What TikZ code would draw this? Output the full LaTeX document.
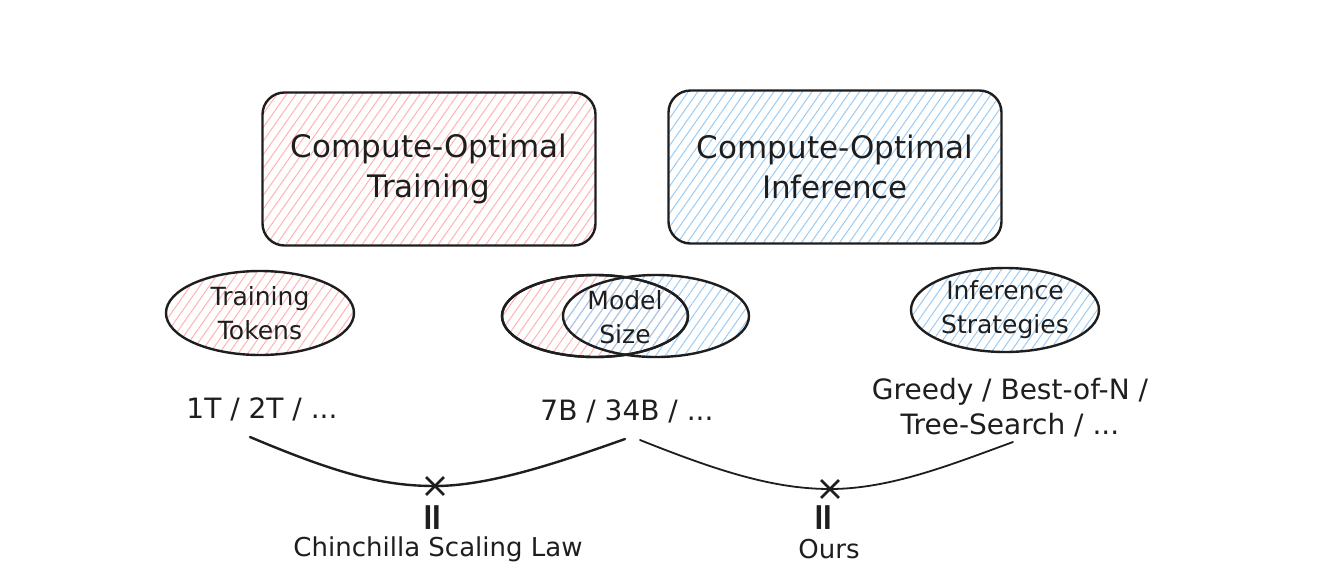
\documentclass[tikz,border=0pt]{standalone}
\usepackage{fontspec}
\setmainfont{DejaVu Sans}
\usetikzlibrary{shapes.geometric,shapes.misc,patterns.meta,positioning}
\definecolor{ink}{HTML}{1E1E1E}
\definecolor{hatchred}{HTML}{FFB3B3}
\definecolor{hatchblue}{HTML}{9CCCF4}

\begin{document}
\begin{tikzpicture}[x=0.5pt, y=-0.5pt,
    box/.style={rectangle, rounded corners=11pt, draw=ink, line width=1.2pt, minimum width=166.5pt, minimum height=76.5pt, align=center, text=ink, font=\fontsize{15.5}{20}\selectfont},
    redfill/.style={pattern={Lines[angle=55,distance=3.9pt,line width=0.5pt]}, pattern color=hatchred},
    bluefill/.style={pattern={Lines[angle=55,distance=3.9pt,line width=0.5pt]}, pattern color=hatchblue},
    blob/.style={ellipse, draw=ink, line width=1.2pt, minimum width=94pt, minimum height=42pt, inner sep=0pt},
    blobtext/.style={align=center, text=ink, font=\fontsize{12.5}{17}\selectfont},
    vals/.style={align=center, text=ink, font=\fontsize{14}{17.5}\selectfont},
    result/.style={text=ink, font=\fontsize{13}{16}\selectfont},
    xmark/.style={cross out, draw=ink, line width=1.4pt, minimum size=7.5pt, inner sep=0pt},
    link/.style={draw=ink, line width=1.2pt, line cap=round}
]
    \useasboundingbox[fill=white] (0,0) rectangle (1335,585);

    % Top boxes
    \node[box, redfill] (train) at (429,169) {Compute-Optimal\\Training};
    \node[box, bluefill] (infer) at (835,167) {Compute-Optimal\\Inference};

    % Factors
    \node[blob, redfill] (tokens) at (260,313) {};
    \node[blobtext] at (tokens) {Training\\Tokens};

    \node[blob, redfill, minimum width=93pt, minimum height=41pt] (sizel) at (595,316) {};
    \node[blob, bluefill, minimum width=93pt, minimum height=41pt] (sizer) at (656,316) {};
    \node[blob, minimum width=93pt, minimum height=41pt] at (sizel) {};
    \node[blobtext] (size) at (625,317) {Model\\Size};

    \node[blob, bluefill] (strat) at (1005,310) {};
    \node[blobtext] at (strat) {Inference\\Strategies};

    % Values
    \node[vals] (tokvals) at (262,409) {1T / 2T / ...};
    \node[vals] (sizevals) at (627,411) {7B / 34B / ...};
    \node[vals] (stratvals) at (1010,408) {Greedy / Best-of-N /\\Tree-Search / ...};

    % Optimum points
    \node[xmark] (chin) at (435,486) {};
    \node[xmark] (ours) at (830,489) {};
    \coordinate (c1a) at (250,437);
    \coordinate (c1b) at (625,439);
    \coordinate (c2a) at (640,440);
    \coordinate (c2b) at (1013,442);

    \draw[link] (c1a) .. controls (340,475) and (385,486) .. (chin.center)
                      .. controls (490,486) and (560,462) .. (c1b);
    \draw[link, line width=0.9pt] (c2a) .. controls (720,472) and (775,489) .. (ours.center)
                      .. controls (890,489) and (950,465) .. (c2b);

    % Results
    \foreach \n/\x/\t in {chin/438/Chinchilla Scaling Law, ours/829/Ours} {
        \node[result, rotate=90, font=\bfseries\fontsize{19}{20}\selectfont] (eq\n) at (\x-3,518) {=};
        \node[result] (lab\n) at (\x,549) {\t};
    }
\end{tikzpicture}
\end{document}
